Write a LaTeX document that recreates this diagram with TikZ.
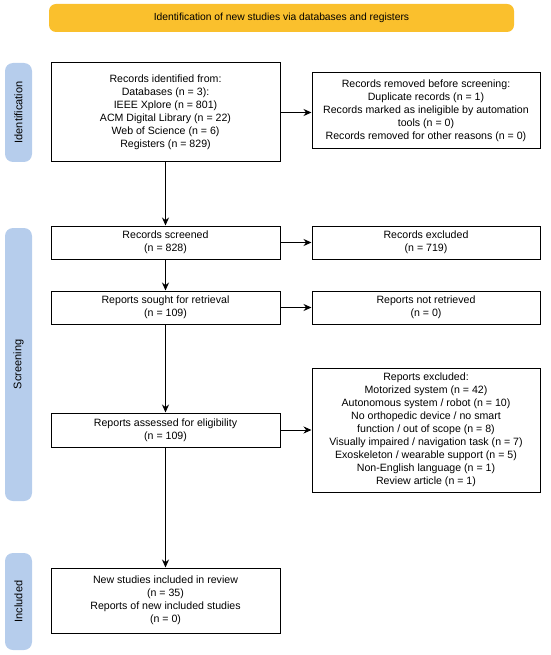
\documentclass[tikz,border=0pt]{standalone}
\usepackage{fontspec}
\setmainfont{Liberation Sans}
\usetikzlibrary{arrows.meta}
\definecolor{barYellow}{RGB}{250,192,45}
\definecolor{phaseBlue}{RGB}{182,205,236}
\tikzset{>={Stealth[length=8pt,width=7pt]}}
\tikzset{
  box/.style={draw, line width=1pt, align=center, inner sep=2pt,
    font=\fontsize{10.6}{13}\selectfont},
  phase/.style={fill=phaseBlue, rounded corners=8pt, rotate=90, inner sep=0pt,
    minimum height=27pt, font=\fontsize{11}{13}\selectfont},
}

\begin{document}
\begin{tikzpicture}[x=1pt,y=-1pt]
\useasboundingbox (0,0) rectangle (550,655);
\node[fill=barYellow, rounded corners=7pt, minimum width=465pt, minimum height=28pt,
  font=\fontsize{10.3}{12}\selectfont] (bar) at (281.5,18)
  {Identification of new studies via databases and registers};
% phases
\node[phase, minimum width=99pt] (idph) at (18.5,112.5) {Identification};
\node[phase, minimum width=273pt] (scph) at (18.5,364.5) {Screening};
\node[phase, minimum width=97pt] (inph) at (18.5,601.5) {Included};
% left column
\node[box, minimum width=229pt, minimum height=99pt] (ident) at (165.5,112.5)
  {Records identified from:\\ Databases (n = 3):\\ IEEE Xplore (n = 801)\\
   ACM Digital Library (n = 22)\\ Web of Science (n = 6)\\ Registers (n = 829)};
\node[box, minimum width=229pt, minimum height=33pt] (screened) at (165.5,242.5)
  {Records screened\\ (n = 828)};
\node[box, minimum width=229pt, minimum height=33pt] (sought) at (165.5,307.5)
  {Reports sought for retrieval\\ (n = 109)};
\node[box, minimum width=229pt, minimum height=34pt] (assessed) at (165.5,430)
  {Reports assessed for eligibility\\ (n = 109)};
\node[box, minimum width=229pt, minimum height=65pt] (incl) at (165.5,600.5)
  {New studies included in review\\ (n = 35)\\ Reports of new included studies\\ (n = 0)};
% right column
\node[box, minimum width=228pt, minimum height=76pt] (removed) at (426,111)
  {Records removed before screening:\\ Duplicate records (n = 1)\\
   Records marked as ineligible by automation\\ tools (n = 0)\\
   Records removed for other reasons (n = 0)};
\node[box, minimum width=228pt, minimum height=33pt] (excluded) at (426,242.5)
  {Records excluded\\ (n = 719)};
\node[box, minimum width=228pt, minimum height=33pt] (notret) at (426,307.5)
  {Reports not retrieved\\ (n = 0)};
\node[box, minimum width=228pt, minimum height=124pt] (repexcl) at (426,430)
  {Reports excluded:\\ Motorized system (n = 42)\\ Autonomous system / robot (n = 10)\\
   No orthopedic device / no smart\\ function / out of scope (n = 8)\\
   Visually impaired / navigation task (n = 7)\\ Exoskeleton / wearable support (n = 5)\\
   Non-English language (n = 1)\\ Review article (n = 1)};
% arrows
\draw[->, line width=1pt] (ident) -- (screened);
\draw[->, line width=1pt] (screened) -- (sought);
\draw[->, line width=1pt] (sought) -- (assessed);
\draw[->, line width=1pt] (assessed) -- (incl);
\draw[->, line width=1pt] (ident.east) -- (ident.east -| removed.west);
\draw[->, line width=1pt] (screened) -- (excluded);
\draw[->, line width=1pt] (sought) -- (notret);
\draw[->, line width=1pt] (assessed) -- (repexcl);
\end{tikzpicture}
\end{document}
